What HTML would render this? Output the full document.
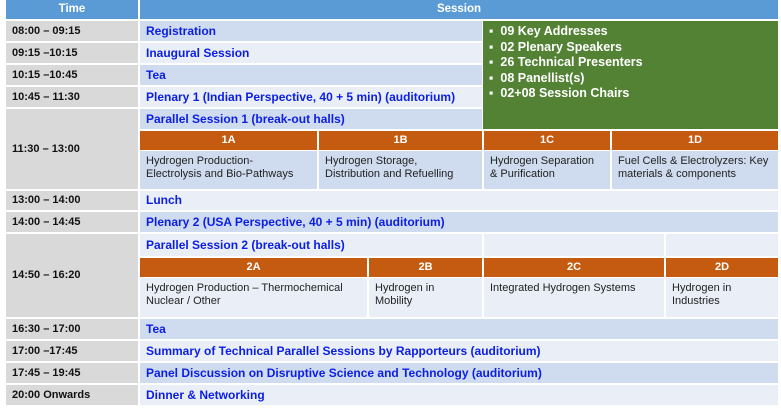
<!DOCTYPE html>
<html><head><meta charset="utf-8"><style>
body{margin:0;width:781px;height:409px;background:#fff;overflow:hidden;font-family:"Liberation Sans",sans-serif;}
.c{position:absolute;box-sizing:border-box;font-size:11px;line-height:13px;display:flex;align-items:center;padding-left:6px;}
.h{background:#5b9bd5;color:#fff;font-weight:bold;justify-content:center;padding:0;font-size:11.5px}
.t{background:#d9d9d9;color:#111;font-weight:bold;}
.d{background:#cfdbee;}
.l{background:#e9eef7;}
.b{color:#0a1ee6;font-weight:bold;font-size:12px;}
.o{background:#c55a11;color:#fff;font-weight:bold;justify-content:center;padding:0;}
.x{color:#222;align-items:flex-start;padding-top:4px;font-size:11px}
</style></head><body>
<div class="c h" style="left:6px;top:0;width:132px;height:19px">Time</div>
<div class="c h" style="left:140px;top:0;width:638px;height:19px">Session</div>

<div class="c t" style="left:6px;top:21px;width:132px;height:20px">08:00 – 09:15</div>
<div class="c d b" style="left:140px;top:21px;width:342px;height:20px">Registration</div>
<div class="c t" style="left:6px;top:43px;width:132px;height:20px">09:15 –10:15</div>
<div class="c l b" style="left:140px;top:43px;width:342px;height:20px">Inaugural Session</div>
<div class="c t" style="left:6px;top:65px;width:132px;height:20px">10:15 –10:45</div>
<div class="c d b" style="left:140px;top:65px;width:342px;height:20px">Tea</div>
<div class="c t" style="left:6px;top:87px;width:132px;height:20px">10:45 – 11:30</div>
<div class="c l b" style="left:140px;top:87px;width:342px;height:20px">Plenary 1 (Indian Perspective, 40 + 5 min) (auditorium)</div>

<div class="c" style="left:483px;top:21px;width:295px;height:108px;background:#548235;color:#fff;font-weight:bold;font-size:12.5px;line-height:15.5px;align-items:flex-start;padding:3px 0 0 6px;display:block">▪&nbsp; 09 Key Addresses<br>▪&nbsp; 02 Plenary Speakers<br>▪&nbsp; 26 Technical Presenters<br>▪&nbsp; 08 Panellist(s)<br>▪&nbsp; 02+08 Session Chairs</div>

<div class="c t" style="left:6px;top:109px;width:132px;height:80px">11:30 – 13:00</div>
<div class="c d b" style="left:140px;top:109px;width:342px;height:20px">Parallel Session 1 (break-out halls)</div>
<div class="c o" style="left:140px;top:131px;width:177px;height:19px">1A</div>
<div class="c o" style="left:319px;top:131px;width:163px;height:19px">1B</div>
<div class="c o" style="left:484px;top:131px;width:126px;height:19px">1C</div>
<div class="c o" style="left:612px;top:131px;width:166px;height:19px">1D</div>
<div class="c d x" style="left:140px;top:151px;width:177px;height:38px">Hydrogen Production-<br>Electrolysis and Bio-Pathways</div>
<div class="c d x" style="left:319px;top:151px;width:163px;height:38px">Hydrogen Storage,<br>Distribution and Refuelling</div>
<div class="c d x" style="left:484px;top:151px;width:126px;height:38px">Hydrogen Separation<br>&amp; Purification</div>
<div class="c d x" style="left:612px;top:151px;width:166px;height:38px">Fuel Cells &amp; Electrolyzers: Key materials &amp; components</div>

<div class="c t" style="left:6px;top:191px;width:132px;height:19px">13:00 – 14:00</div>
<div class="c l b" style="left:140px;top:191px;width:638px;height:19px">Lunch</div>
<div class="c t" style="left:6px;top:212px;width:132px;height:20px">14:00 – 14:45</div>
<div class="c d b" style="left:140px;top:212px;width:638px;height:20px">Plenary 2 (USA Perspective, 40 + 5 min) (auditorium)</div>

<div class="c t" style="left:6px;top:234px;width:132px;height:83px">14:50 – 16:20</div>
<div class="c l b" style="left:140px;top:234px;width:342px;height:22px">Parallel Session 2 (break-out halls)</div>
<div class="c l" style="left:484px;top:234px;width:180px;height:22px"></div>
<div class="c l" style="left:666px;top:234px;width:112px;height:22px"></div>
<div class="c o" style="left:140px;top:258px;width:227px;height:19px">2A</div>
<div class="c o" style="left:369px;top:258px;width:113px;height:19px">2B</div>
<div class="c o" style="left:484px;top:258px;width:180px;height:19px">2C</div>
<div class="c o" style="left:666px;top:258px;width:112px;height:19px">2D</div>
<div class="c l x" style="left:140px;top:278px;width:227px;height:39px">Hydrogen Production – Thermochemical<br>Nuclear / Other</div>
<div class="c l x" style="left:369px;top:278px;width:113px;height:39px">Hydrogen in<br>Mobility</div>
<div class="c l x" style="left:484px;top:278px;width:180px;height:39px">Integrated Hydrogen Systems</div>
<div class="c l x" style="left:666px;top:278px;width:112px;height:39px">Hydrogen in<br>Industries</div>

<div class="c t" style="left:6px;top:319px;width:132px;height:20px">16:30 – 17:00</div>
<div class="c d b" style="left:140px;top:319px;width:638px;height:20px">Tea</div>
<div class="c t" style="left:6px;top:341px;width:132px;height:20px">17:00 –17:45</div>
<div class="c l b" style="left:140px;top:341px;width:638px;height:20px">Summary of Technical Parallel Sessions by Rapporteurs (auditorium)</div>
<div class="c t" style="left:6px;top:363px;width:132px;height:20px">17:45 – 19:45</div>
<div class="c d b" style="left:140px;top:363px;width:638px;height:20px">Panel Discussion on Disruptive Science and Technology (auditorium)</div>
<div class="c t" style="left:6px;top:385px;width:132px;height:20px">20:00 Onwards</div>
<div class="c l b" style="left:140px;top:385px;width:638px;height:20px">Dinner &amp; Networking</div>
</body></html>
